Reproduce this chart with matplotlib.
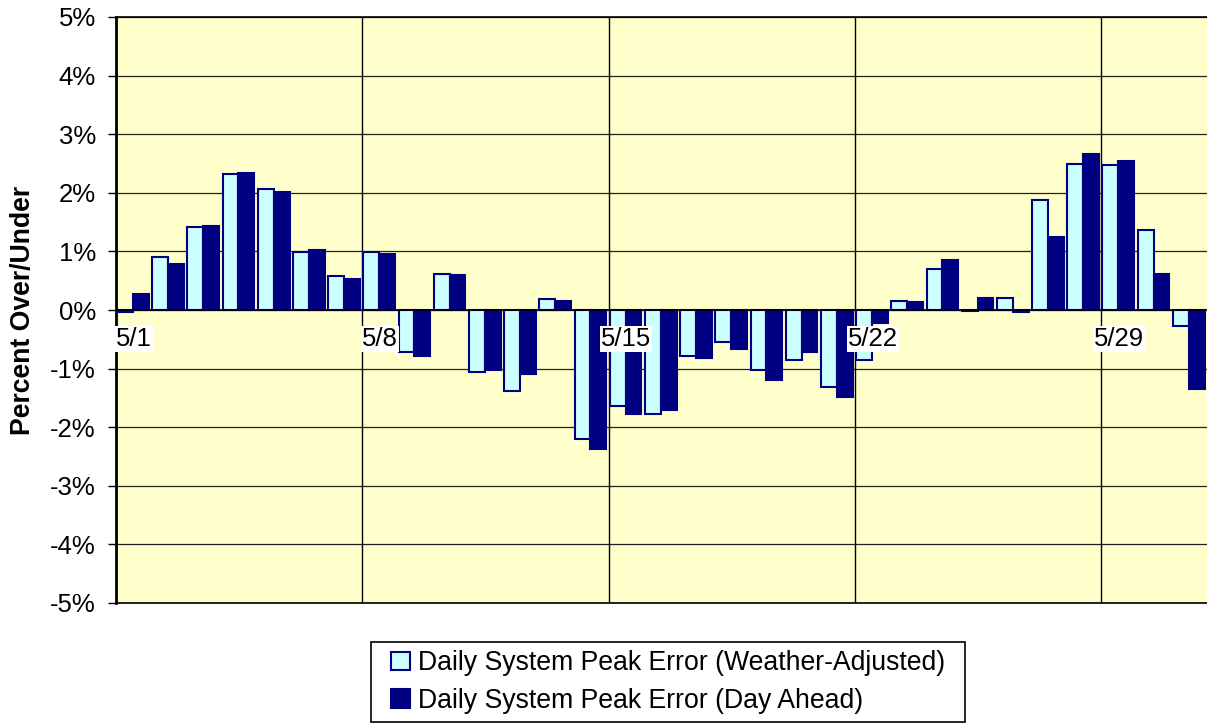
import numpy as np
import matplotlib
matplotlib.use("Agg")
import matplotlib.pyplot as plt
from matplotlib.ticker import FuncFormatter
from matplotlib.patches import Rectangle

plt.rcParams['font.family'] = ['Liberation Sans', 'DejaVu Sans']

days = [f"5/{d}" for d in range(1, 32)]
weather_adjusted = [-0.03, 0.90, 1.42, 2.32, 2.06, 0.99, 0.58, 0.99, -0.71, 0.61,
                    -1.05, -1.39, 0.18, -2.20, -1.64, -1.78, -0.79, -0.55, -1.02, -0.85,
                    -1.31, -0.86, 0.16, 0.70, -0.02, 0.20, 1.88, 2.49, 2.47, 1.37,
                    -0.27]
day_ahead = [0.27, 0.79, 1.44, 2.34, 2.01, 1.03, 0.53, 0.95, -0.79, 0.60,
             -1.03, -1.10, 0.15, -2.37, -1.77, -1.71, -0.82, -0.66, -1.20, -0.71,
             -1.48, -0.22, 0.13, 0.86, 0.21, -0.03, 1.24, 2.66, 2.54, 0.62,
             -1.34]
label_every = 7
yticks = [-5, -4, -3, -2, -1, 0, 1, 2, 3, 4, 5]
FS = 18.5
FS_BIG = 19.2

W, H = 1207, 723
fig = plt.figure(figsize=(W/100, H/100), dpi=100)
ax = fig.add_axes([116/W, 1-603/H, 1-116/W, (603-17)/H])
ax.set_facecolor('#FFFFCC')

x = np.arange(len(days))
ax.bar(x + 0.03, weather_adjusted, width=0.45, align='edge', facecolor='#CCFFFF',
       edgecolor='#000080', linewidth=1.5, zorder=3, label='Daily System Peak Error (Weather-Adjusted)')
ax.bar(x + 0.48, day_ahead, width=0.45, align='edge', facecolor='#000080',
       edgecolor='#000080', linewidth=1.5, zorder=3, label='Daily System Peak Error (Day Ahead)')

ax.set_xlim(0, len(days))
ax.set_ylim(-5, 5)
ax.set_yticks(yticks)
ax.yaxis.set_major_formatter(FuncFormatter(lambda v, p: f"{int(round(v))}%"))
ax.tick_params(axis='y', direction='out', length=5.5, width=1, labelsize=FS, pad=9)
ax.set_xticks([])
for yv in yticks:
    ax.axhline(yv, color='#202020', lw=0.9, zorder=1)
for k in range(0, len(days), label_every):
    ax.axvline(k, color='black', lw=1.0, zorder=1)
ax.axhline(0, color='black', lw=1.2, zorder=4)

for k in range(0, len(days), label_every):
    ax.annotate(days[k], xy=(k + 0.5, 0), xytext=(0, -17), textcoords='offset pixels',
                ha='center', va='top', fontsize=FS, zorder=6,
                bbox=dict(facecolor='white', edgecolor='none', pad=0.8))

ax.spines['left'].set_linewidth(2)
ax.spines['top'].set_linewidth(1.2)
ax.spines['bottom'].set_linewidth(1.2)
ax.spines['right'].set_visible(False)

ax.set_ylabel('Percent Over/Under', fontsize=FS_BIG, fontweight='bold', labelpad=10)

leg = fig.legend(loc='center', bbox_to_anchor=(668/W, 1-682/H), ncol=1,
                 fontsize=FS_BIG, frameon=False,
                 handlelength=0.7, handleheight=0.7, handletextpad=0.3,
                 borderpad=0.2, labelspacing=0.42, borderaxespad=0)

fig.canvas.draw()
bb = leg.get_window_extent()
padx, pady = 15, 3
fig.patches.append(Rectangle(((bb.x0 - padx)/W, (bb.y0 - pady)/H),
                             (bb.width + 2*padx)/W, (bb.height + 2*pady)/H,
                             transform=fig.transFigure, fill=False,
                             edgecolor='black', linewidth=1.2))

fig.savefig('out.png', dpi=100, facecolor='white')
